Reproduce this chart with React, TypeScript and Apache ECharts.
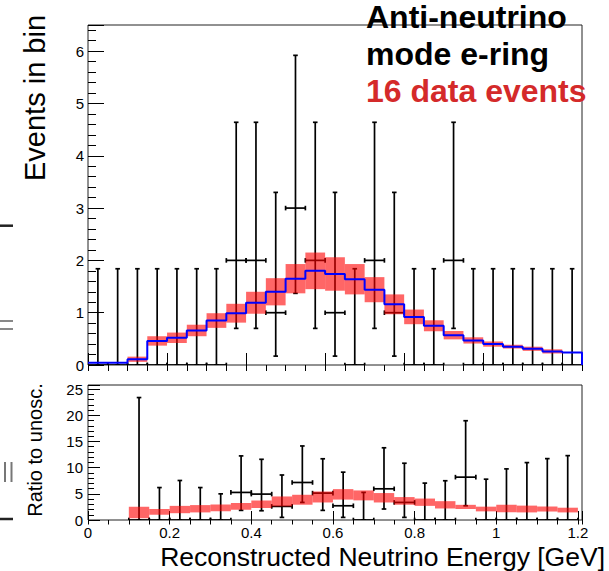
import React, { useEffect, useRef } from 'react';
import * as echarts from 'echarts';

const FONT = '"Liberation Sans", Arial, Helvetica, sans-serif';

// Top panel: 25 bins of 0.05 GeV (0 – 1.25 GeV)
const topBinWidth = 0.05;
const mcPrediction = [0.044, 0.044, 0.11, 0.46, 0.52, 0.66, 0.85, 0.99, 1.19, 1.40, 1.65, 1.80, 1.74, 1.64, 1.44, 1.16, 0.92, 0.75, 0.57, 0.47, 0.40, 0.35, 0.31, 0.26, 0.24];
const mcSystErr = [0, 0, 0.05, 0.09, 0.10, 0.11, 0.14, 0.18, 0.21, 0.26, 0.28, 0.35, 0.32, 0.29, 0.24, 0.19, 0.14, 0.105, 0.08, 0.06, 0.05, 0.035, 0.04, 0.04, 0];
const dataCounts = [0, 0, 0, 0, 0, 0, 0, 2, 2, 1, 3, 2, 1, 0, 2, 1, 0, 0, 2, 0, 0, 0, 0, 0, 0];
const dataErrLow = [0, 0, 0, 0, 0, 0, 0, 0.70, 0.70, 0.17, 1.37, 0.70, 0.17, 0, 0.70, 0.17, 0, 0, 0.70, 0, 0, 0, 0, 0, 0];
const dataErrHigh = [1.84, 1.84, 1.84, 1.84, 1.84, 1.84, 1.84, 4.64, 4.64, 3.30, 5.92, 4.64, 3.30, 1.84, 4.64, 3.30, 1.84, 1.84, 4.64, 1.84, 1.84, 1.84, 1.84, 1.84, 1.84];

// Bottom panel: ratio to unoscillated, 0.05 GeV bins (first two empty)
const ratioBinWidth = 0.05;
const ratioBand = [null, null, 1.45, 1.55, 2.0, 2.15, 2.3, 2.6, 3.0, 3.55, 3.87, 4.4, 4.9, 4.7, 4.25, 3.65, 3.4, 2.9, 2.5, 2.1, 2.2, 2.1, 2.1, 1.9];
const ratioBandErr = [null, null, 1.1, 0.55, 0.7, 0.7, 0.65, 0.64, 0.72, 0.95, 0.95, 1.05, 1.0, 0.95, 0.9, 0.73, 0.7, 0.7, 0.4, 0.45, 0.73, 0.65, 0.48, 0.45];
const ratioData = [null, null, 0, 0, 0, 0, 0, 5.27, 4.95, 2.6, 7.17, 5.14, 2.72, 0, 5.96, 3.36, 0, 0, 8.19, 0, 0, 0, 0, 0];
const ratioLow = [null, null, 0, 0, 0, 0, 0, 1.84, 1.77, 0.5, 3.36, 1.84, 0.5, 0, 2.1, 0.5, 0, 0, 2.72, 0, 0, 0, 0, 0];
const ratioHigh = [null, null, 23.4, 6.2, 7.55, 6.2, 5.0, 12.25, 11.6, 8.6, 14.15, 11.7, 9.14, 5.27, 13.8, 10.85, 7.05, 7.5, 18.97, 7.8, 9.77, 10.97, 11.73, 12.3];

const topXMax = 1.25;
const bottomXMax = 1.21;
const topYMax = 6.5;
const bottomYMax = 25.8;

function edge(i: number, w: number) {
  return Math.round(i * w * 1000) / 1000;
}

function renderErrBar(params: any, api: any) {
  const x0 = api.value(0), x1 = api.value(1), y = api.value(2), lo = api.value(3), hi = api.value(4);
  const xc = (x0 + x1) / 2;
  const pc = api.coord([xc, y]);
  const pLo = api.coord([xc, lo]);
  const pHi = api.coord([xc, hi]);
  const pL = api.coord([x0, y]);
  const pR = api.coord([x1, y]);
  const st = { stroke: '#000', lineWidth: 1.7 };
  const c = 2.3;
  const L = (a: number, b: number, cc: number, d: number) => ({ type: 'line', shape: { x1: a, y1: b, x2: cc, y2: d }, style: st });
  return {
    type: 'group',
    children: [
      L(pc[0], pHi[1], pc[0], pLo[1]),
      L(pc[0] - c, pHi[1], pc[0] + c, pHi[1]),
      L(pc[0] - c, pLo[1], pc[0] + c, pLo[1]),
      L(pL[0], pc[1], pR[0], pc[1]),
      L(pL[0], pc[1] - c, pL[0], pc[1] + c),
      L(pR[0], pc[1] - c, pR[0], pc[1] + c),
    ],
  };
}

function renderBand(params: any, api: any) {
  const p0 = api.coord([api.value(0), api.value(3)]);
  const p1 = api.coord([api.value(1), api.value(2)]);
  return {
    type: 'rect',
    shape: { x: p0[0], y: p0[1], width: p1[0] - p0[0], height: p1[1] - p0[1] },
    style: { fill: 'rgba(255,0,0,0.6)' },
  };
}

export default function App() {
  const ref = useRef<HTMLDivElement>(null);
  useEffect(() => {
    if (!ref.current) return;
    const chart = echarts.init(ref.current, undefined, { renderer: 'svg' });

    const topBandData = mcPrediction
      .map((v, i) => [edge(i, topBinWidth), edge(i + 1, topBinWidth), v - mcSystErr[i], v + mcSystErr[i]])
      .filter((d, i) => mcSystErr[i] > 0);
    const topErrData = dataCounts.map((v, i) => [edge(i, topBinWidth), edge(i + 1, topBinWidth), v, dataErrLow[i], dataErrHigh[i]]);
    const lineData: number[][] = mcPrediction.map((v, i) => [edge(i, topBinWidth), v]);
    lineData.push([edge(mcPrediction.length, topBinWidth), mcPrediction[mcPrediction.length - 1]]);
    lineData.push([edge(mcPrediction.length, topBinWidth), 0]);

    const ratioBandData: number[][] = [];
    const ratioErrData: number[][] = [];
    ratioBand.forEach((v, i) => {
      if (v == null) return;
      const e = ratioBandErr[i] as number;
      ratioBandData.push([edge(i, ratioBinWidth), edge(i + 1, ratioBinWidth), v - e, v + e]);
    });
    ratioData.forEach((v, i) => {
      if (v == null) return;
      ratioErrData.push([edge(i, ratioBinWidth), edge(i + 1, ratioBinWidth), v, ratioLow[i] as number, ratioHigh[i] as number]);
    });

    const labelStyle = { fontFamily: FONT, fontSize: 15, color: '#000' };
    const tickStyle = { color: '#000', width: 1 };

    const xFmt = (v: number) => {
      if (Math.abs(v * 5 - Math.round(v * 5)) > 1e-6) return '';
      return String(Math.round(v * 10) / 10);
    };
    const intFmt = (step: number) => (v: number) => {
      if (Math.abs(v / step - Math.round(v / step)) > 1e-6) return '';
      return String(Math.round(v));
    };

    const option: any = {
      animation: false,
      backgroundColor: '#fff',
      grid: [
        { left: 88, top: 25, width: 494, height: 340, show: true, borderColor: '#222', borderWidth: 1, backgroundColor: 'transparent' },
        { left: 88, top: 385, width: 494, height: 135, show: true, borderColor: '#222', borderWidth: 1, backgroundColor: 'transparent' },
      ],
      xAxis: [
        { type: 'value', gridIndex: 0, min: 0, max: topXMax, interval: 0.2, axisLine: { show: false }, axisLabel: { show: false }, axisTick: { inside: true, length: 12, lineStyle: tickStyle }, splitLine: { show: false } },
        { type: 'value', gridIndex: 0, min: 0, max: topXMax, interval: 0.05, axisLine: { show: false }, axisLabel: { show: false }, axisTick: { inside: true, length: 6, lineStyle: tickStyle }, splitLine: { show: false } },
        { type: 'value', gridIndex: 1, min: 0, max: bottomXMax, interval: 0.2, axisLine: { show: false }, axisLabel: { ...labelStyle, margin: 5, formatter: xFmt, showMaxLabel: true }, axisTick: { inside: true, length: 9, lineStyle: tickStyle }, splitLine: { show: false } },
        { type: 'value', gridIndex: 1, min: 0, max: bottomXMax, interval: 0.05, axisLine: { show: false }, axisLabel: { show: false }, axisTick: { inside: true, length: 4.5, lineStyle: tickStyle }, splitLine: { show: false } },
      ],
      yAxis: [
        { type: 'value', gridIndex: 0, position: 'left', min: 0, max: topYMax, interval: 1, axisLine: { show: false }, axisLabel: { ...labelStyle, margin: 4, formatter: intFmt(1) }, axisTick: { inside: true, length: 16, lineStyle: tickStyle }, splitLine: { show: false } },
        { type: 'value', gridIndex: 0, position: 'left', min: 0, max: topYMax, interval: 0.2, axisLine: { show: false }, axisLabel: { show: false }, axisTick: { inside: true, length: 8, lineStyle: tickStyle }, splitLine: { show: false } },
        { type: 'value', gridIndex: 1, position: 'left', min: 0, max: bottomYMax, interval: 5, axisLine: { show: false }, axisLabel: { ...labelStyle, margin: 5, formatter: intFmt(5) }, axisTick: { inside: true, length: 12, lineStyle: tickStyle }, splitLine: { show: false } },
        { type: 'value', gridIndex: 1, position: 'left', min: 0, max: bottomYMax, interval: 1, axisLine: { show: false }, axisLabel: { show: false }, axisTick: { inside: true, length: 6, lineStyle: tickStyle }, splitLine: { show: false } },
      ],
      series: [
        { type: 'custom', name: 'data', xAxisIndex: 0, yAxisIndex: 0, clip: true, renderItem: renderErrBar, data: topErrData, encode: { x: [0, 1], y: [2, 3, 4] }, silent: true },
        { type: 'custom', name: 'syst', xAxisIndex: 0, yAxisIndex: 0, clip: true, renderItem: renderBand, data: topBandData, encode: { x: [0, 1], y: [2, 3] }, silent: true },
        { type: 'line', name: 'pred', xAxisIndex: 0, yAxisIndex: 0, step: 'end', symbol: 'none', data: lineData, lineStyle: { color: '#0000ff', width: 2 }, itemStyle: { color: '#0000ff' }, silent: true },
        { type: 'custom', name: 'ratioData', xAxisIndex: 2, yAxisIndex: 2, clip: true, renderItem: renderErrBar, data: ratioErrData, encode: { x: [0, 1], y: [2, 3, 4] }, silent: true },
        { type: 'custom', name: 'ratioBand', xAxisIndex: 2, yAxisIndex: 2, clip: true, renderItem: renderBand, data: ratioBandData, encode: { x: [0, 1], y: [2, 3] }, silent: true },
      ],
      graphic: [
        { type: 'text', x: 366, y: 17.3, style: { text: 'Anti-neutrino', font: `bold 32px ${FONT}`, fill: '#000', textAlign: 'left', textVerticalAlign: 'middle' } },
        { type: 'text', x: 366, y: 54, style: { text: 'mode e-ring', font: `bold 32px ${FONT}`, fill: '#000', textAlign: 'left', textVerticalAlign: 'middle' } },
        { type: 'text', x: 366, y: 90.6, style: { text: '16 data events', font: `bold 32px ${FONT}`, fill: '#d42a2a', textAlign: 'left', textVerticalAlign: 'middle' } },
        { type: 'text', x: 35, y: 98, rotation: Math.PI / 2, style: { text: 'Events in bin', font: `29px ${FONT}`, fill: '#000', textAlign: 'center', textVerticalAlign: 'middle' } },
        { type: 'text', x: 35, y: 450, rotation: Math.PI / 2, style: { text: 'Ratio to unosc.', font: `20px ${FONT}`, fill: '#000', textAlign: 'center', textVerticalAlign: 'middle' } },
        { type: 'text', x: 605, y: 557, style: { text: 'Reconstructed Neutrino Energy [GeV]', font: `26.5px ${FONT}`, fill: '#000', textAlign: 'right', textVerticalAlign: 'middle' } },
        { type: 'line', shape: { x1: 0, y1: 225.7, x2: 13, y2: 225.7 }, style: { stroke: '#222', lineWidth: 2.5 } },
        { type: 'line', shape: { x1: 0, y1: 321, x2: 13, y2: 321 }, style: { stroke: '#888', lineWidth: 2 } },
        { type: 'line', shape: { x1: 0, y1: 329, x2: 13, y2: 329 }, style: { stroke: '#888', lineWidth: 2 } },
        { type: 'line', shape: { x1: 5, y1: 462, x2: 5, y2: 482 }, style: { stroke: '#777', lineWidth: 2 } },
        { type: 'line', shape: { x1: 11.5, y1: 462, x2: 11.5, y2: 482 }, style: { stroke: '#777', lineWidth: 2 } },
        { type: 'line', shape: { x1: 0, y1: 519, x2: 13, y2: 519 }, style: { stroke: '#222', lineWidth: 2.5 } },
      ],
    };
    chart.setOption(option);
    return () => chart.dispose();
  }, []);
  return <div ref={ref} style={{ position: 'fixed', left: 0, top: 0, width: 609, height: 571, background: '#fff' }} />;
}
